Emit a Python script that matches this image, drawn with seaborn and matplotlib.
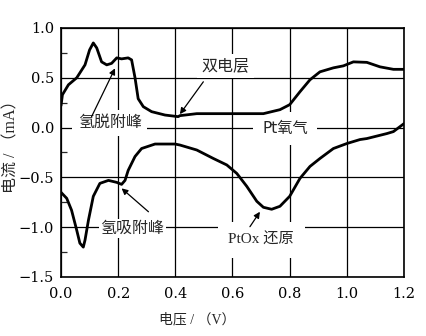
import matplotlib
matplotlib.use("Agg")
import matplotlib.pyplot as plt
import numpy as np
import pandas as pd
import seaborn as sns
from matplotlib.ticker import FixedLocator, FuncFormatter

# ---- data (potential in V, current in mA) ----
anodic_v = [0.000, 0.005, 0.026, 0.055, 0.084, 0.100, 0.113, 0.125, 0.142, 0.160,
            0.177, 0.195, 0.212, 0.235, 0.247, 0.259, 0.270, 0.288, 0.317, 0.364,
            0.410, 0.416, 0.475, 0.590, 0.708, 0.766, 0.800, 0.836, 0.871, 0.906,
            0.953, 0.988, 1.023, 1.070, 1.116, 1.163, 1.200]
anodic_i = [0.22, 0.33, 0.43, 0.50, 0.63, 0.78, 0.85, 0.80, 0.66, 0.63,
            0.645, 0.70, 0.69, 0.70, 0.68, 0.50, 0.29, 0.21, 0.16, 0.126,
            0.11, 0.12, 0.14, 0.14, 0.14, 0.18, 0.23, 0.36, 0.48, 0.56,
            0.60, 0.62, 0.66, 0.655, 0.61, 0.585, 0.585]

cathodic_v = [1.200, 1.163, 1.140, 1.070, 1.046, 1.000, 0.953, 0.906, 0.871, 0.836,
              0.800, 0.766, 0.737, 0.708, 0.685, 0.650, 0.615, 0.580, 0.533, 0.475,
              0.416, 0.399, 0.329, 0.282, 0.259, 0.235, 0.224, 0.212, 0.195, 0.166,
              0.136, 0.113, 0.096, 0.084, 0.078, 0.066, 0.055, 0.037, 0.020, 0.000]
cathodic_i = [0.04, -0.04, -0.06, -0.11, -0.12, -0.16, -0.21, -0.31, -0.39, -0.51,
              -0.69, -0.79, -0.82, -0.80, -0.74, -0.59, -0.46, -0.375, -0.31, -0.225,
              -0.175, -0.165, -0.165, -0.21, -0.29, -0.43, -0.53, -0.57, -0.55, -0.53,
              -0.56, -0.69, -0.93, -1.13, -1.20, -1.16, -1.03, -0.83, -0.71, -0.65]

x_ticks = [0.0, 0.2, 0.4, 0.6, 0.8, 1.0, 1.2]
y_ticks = [-1.5, -1.0, -0.5, 0.0, 0.5, 1.0]
y_minor = [-1.25, -0.75, -0.25, 0.25, 0.75]

x_label = "电压 / （V）"
y_label = "电流 / （mA）"

df_a = pd.DataFrame({"v": anodic_v, "i": anodic_i})
df_c = pd.DataFrame({"v": cathodic_v, "i": cathodic_i})

sns.set_style("white")
plt.rcParams["font.family"] = ["DejaVu Serif", "Noto Sans CJK SC"]

fig = plt.figure(figsize=(4.26, 3.36), dpi=100)
ax = fig.add_axes([61 / 426, 59 / 336, 343 / 426, 249 / 336])

sns.lineplot(data=df_a, x="v", y="i", sort=False, estimator=None, color="black",
             lw=2.0, ax=ax, zorder=5)
sns.lineplot(data=df_c, x="v", y="i", sort=False, estimator=None, color="black",
             lw=2.0, ax=ax, zorder=5)

ax.set_xlim(0, 1.2)
ax.set_ylim(-1.5, 1.0)
ax.xaxis.set_major_locator(FixedLocator(x_ticks))
ax.yaxis.set_major_locator(FixedLocator(y_ticks))
ax.yaxis.set_minor_locator(FixedLocator(y_minor))
fmt = FuncFormatter(lambda v, p: f"{v:.1f}".replace("-", "\u2212"))
ax.xaxis.set_major_formatter(fmt)
ax.yaxis.set_major_formatter(fmt)
ax.tick_params(which="major", length=0, labelsize=10.5, colors="black")
ax.tick_params(axis="x", which="major", pad=7)
ax.tick_params(axis="y", which="major", pad=5)
ax.tick_params(axis="y", which="minor", direction="in", length=4, width=0.9,
               left=True, right=False)
ax.grid(True, which="major", color="black", lw=0.9)
for s in ax.spines.values():
    s.set_color("black")
    s.set_linewidth(1.2)
    s.set_visible(True)

lab_font = ["Liberation Serif", "Noto Sans CJK SC"]
ax.set_xlabel(x_label, fontsize=10, family=lab_font)
ax.set_ylabel(y_label, fontsize=11.5, family=lab_font)
ax.xaxis.set_label_coords((197 - 61) / 343, -36 / 249)
ax.yaxis.set_label_coords((19 - 61) / 343, (277 - 143) / 249)

cjk_serif = ["Liberation Serif", "Noto Sans CJK SC"]
cjk_sans = ["DejaVu Sans", "Noto Sans CJK SC"]
box = lambda p: dict(boxstyle=f"square,pad={p}", fc="white", ec="none")

ax.text(0.17, 0.05, "氢脱附峰", ha="center", va="center", fontsize=11.5,
        family=cjk_sans, bbox=box(0.35), zorder=3)
ax.text(0.575, 0.62, "双电层", ha="center", va="center", fontsize=11.5,
        family=cjk_sans, bbox=box(0.3), zorder=3)
ax.text(0.785, -0.01, "Pt氧气", ha="center", va="center", fontsize=11,
        family=cjk_sans, bbox=box(0.6), zorder=3)
ax.text(0.25, -1.01, "氢吸附峰", ha="center", va="center", fontsize=11.5,
        family=cjk_sans, bbox=box(0.12), zorder=3)
ax.text(0.70, -1.13, "PtOx 还原", ha="center", va="center", fontsize=11,
        family=cjk_serif, bbox=box(0.7), zorder=3)

arrow = dict(arrowstyle="-|>", color="black", lw=0.9, mutation_scale=9,
             shrinkA=0, shrinkB=0)
ax.annotate("", xy=(0.189, 0.595), xytext=(0.107, 0.11), arrowprops=arrow, zorder=6)
ax.annotate("", xy=(0.416, 0.135), xytext=(0.498, 0.46), arrowprops=arrow, zorder=6)
ax.annotate("", xy=(0.212, -0.61), xytext=(0.306, -0.845), arrowprops=arrow, zorder=6)
ax.annotate("", xy=(0.696, -0.845), xytext=(0.661, -0.995), arrowprops=arrow, zorder=6)

fig.savefig("out.png", dpi=100, facecolor="white")
